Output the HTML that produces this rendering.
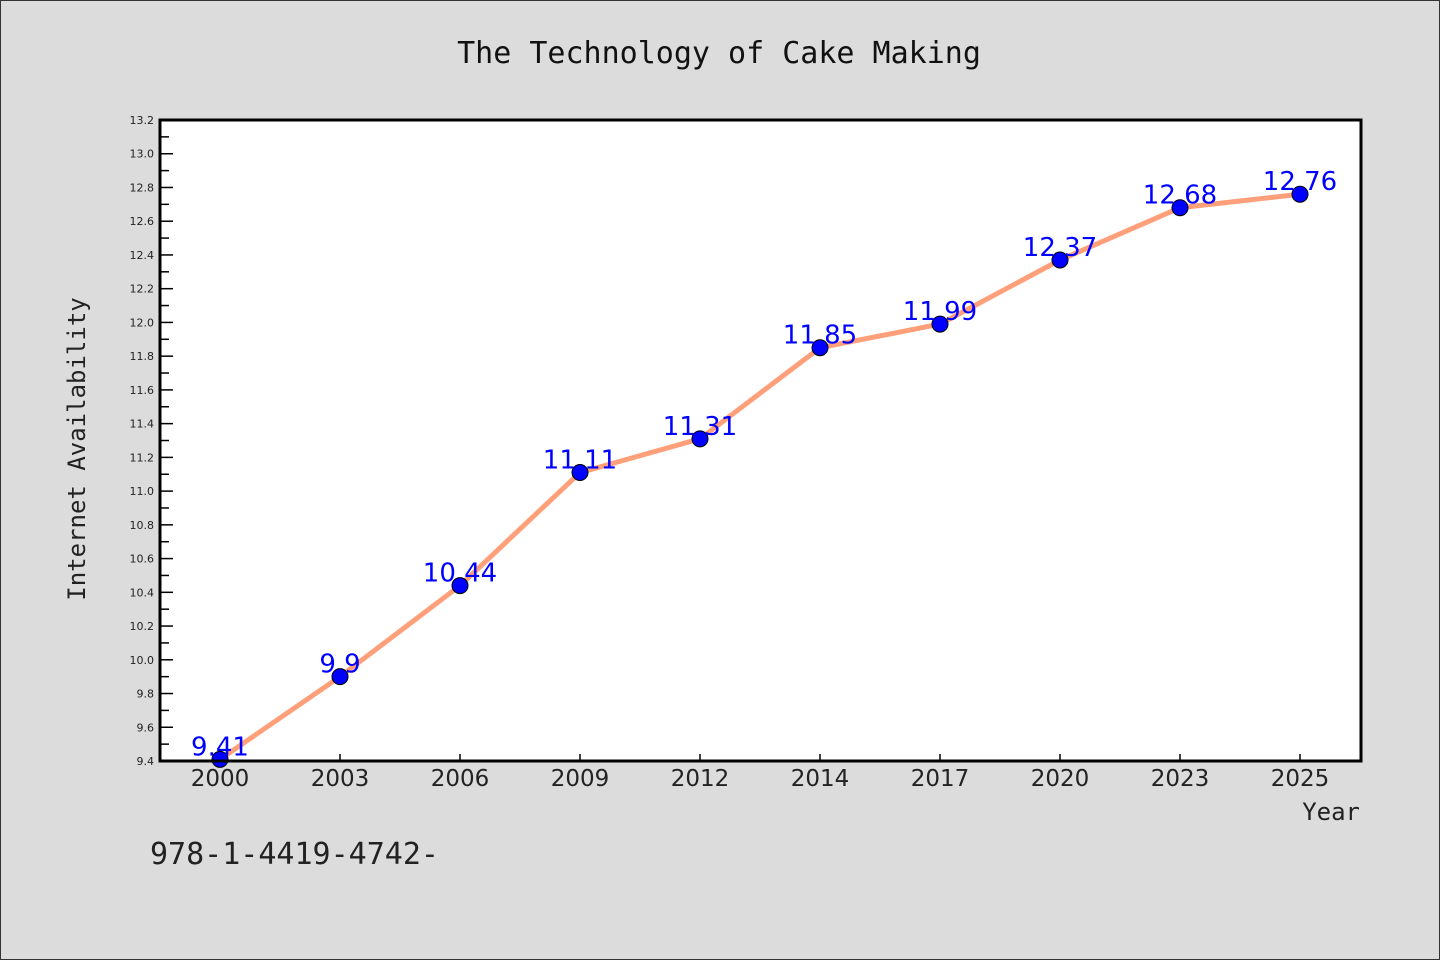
<!DOCTYPE html>
<html><head><meta charset="utf-8"><style>
html,body{margin:0;padding:0;background:#dcdcdc;}
svg{display:block;}
</style></head><body>
<svg width="1440" height="960" xmlns="http://www.w3.org/2000/svg">
<rect x="0.5" y="0.5" width="1439" height="959" fill="#dcdcdc" stroke="#333"/>
<text x="719" y="63" text-anchor="middle" font-family="DejaVu Sans Mono, Liberation Mono, monospace" font-size="30" fill="#111">The Technology of Cake Making</text>
<rect x="160" y="120" width="1201" height="641" fill="#fff"/>
<g id="ticks"></g>
<g id="series"></g>
<rect x="160" y="120" width="1201" height="641" fill="none" stroke="#000" stroke-width="3"/>
<text transform="translate(85,449) rotate(-90)" text-anchor="middle" font-family="DejaVu Sans Mono, Liberation Mono, monospace" font-size="24" fill="#222">Internet Availability</text>
<text x="1360" y="820" text-anchor="end" font-family="DejaVu Sans Mono, Liberation Mono, monospace" font-size="24" fill="#222">Year</text>
<text x="150" y="864" font-family="DejaVu Sans Mono, Liberation Mono, monospace" font-size="30" fill="#222">978-1-4419-4742-</text>
</svg>
<script>
const categories = ["2000","2003","2006","2009","2012","2014","2017","2020","2023","2025"];
const values = [9.41, 9.9, 10.44, 11.11, 11.31, 11.85, 11.99, 12.37, 12.68, 12.76];
const valueLabels = ["9.41","9.9","10.44","11.11","11.31","11.85","11.99","12.37","12.68","12.76"];
const yTicks = [9.4,9.6,9.8,10.0,10.2,10.4,10.6,10.8,11.0,11.2,11.4,11.6,11.8,12.0,12.2,12.4,12.6,12.8,13.0,13.2];
const yMin = 9.4, yMax = 13.2;
const NS = "http://www.w3.org/2000/svg";
const L=160,R=1361,T=120,B=761;
function y(v){return B-(v-yMin)/(yMax-yMin)*(B-T);}
function x(i){return 220+i*(1300-220)/(categories.length-1);}
function mk(tag,attrs,parent){const e=document.createElementNS(NS,tag);for(const k in attrs)e.setAttribute(k,attrs[k]);parent.appendChild(e);return e;}
const tg=document.getElementById('ticks');
yTicks.forEach((v,i)=>{
  const t=mk('line',{x1:L,x2:L+13,y1:y(v),y2:y(v),stroke:'#000','stroke-width':1.5},tg);
  
  
  if(i<yTicks.length-1){
    const mv=(v+yTicks[i+1])/2;
    const m=mk('line',{x1:L,x2:L+9,y1:y(mv),y2:y(mv),stroke:'#000','stroke-width':1.5},tg);
    
    
  }
  const lb=mk('text',{x:L-6,y:y(v)+4,'text-anchor':'end','font-family':'DejaVu Sans, Liberation Sans, sans-serif','font-size':11,fill:'#222'},tg);
  lb.textContent=v.toFixed(1);
  
  
});
categories.forEach((c,i)=>{
  const t=mk('line',{x1:x(i),x2:x(i),y1:B,y2:B-7,stroke:'#000','stroke-width':1.5},tg);
  
  
  const lb=mk('text',{x:x(i),y:B+25,'text-anchor':'middle','font-family':'DejaVu Sans, Liberation Sans, sans-serif','font-size':23,fill:'#222'},tg);
  lb.textContent=c;
  
  
});
const sg=document.getElementById('series');
const pl=mk('polyline',{points:values.map((v,i)=>x(i)+','+y(v)).join(' '),fill:'none',stroke:'#ffa07a','stroke-width':5,'stroke-linejoin':'round'},sg);


values.forEach((v,i)=>{
  const c=mk('circle',{cx:x(i),cy:y(v),r:8,fill:'#0000ff',stroke:'#000','stroke-width':1},sg);
  
  
  const lb=mk('text',{x:x(i),y:y(v)-4,'text-anchor':'middle','font-family':'DejaVu Sans, Liberation Sans, sans-serif','font-size':26,fill:'#0000ff'},sg);
  lb.textContent=valueLabels[i];
  
  
});
</script>
</body></html>
